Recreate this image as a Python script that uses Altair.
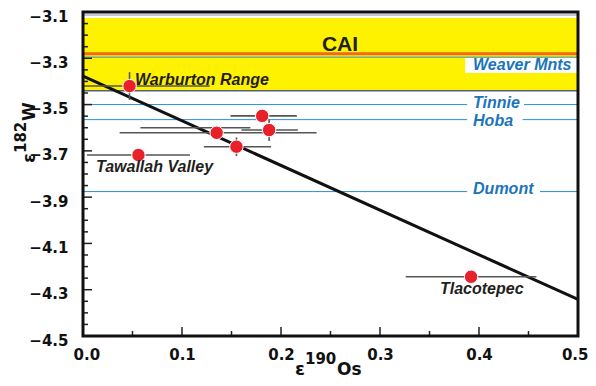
import altair as alt
import pandas as pd

# ---- data ----
sample_names = ["Warburton Range", "s2", "s3", "s4", "s5", "Tawallah Valley", "Tlacotepec"]
os190 = [0.047, 0.181, 0.188, 0.135, 0.155, 0.056, 0.392]
w182 = [-3.420, -3.549, -3.610, -3.622, -3.682, -3.718, -4.244]
os190_lo = [-0.034, 0.149, 0.160, 0.037, 0.122, 0.004, 0.326]
os190_hi = [0.128, 0.216, 0.217, 0.236, 0.190, 0.108, 0.458]
w182_err = [0.060, 0.0, 0.047, 0.0, 0.040, 0.0, 0.0]

extra_bar_y = [-3.600]
extra_bar_lo = [0.058]
extra_bar_hi = [0.169]

fit_x = [0.0, 0.5]
fit_y = [-3.377, -4.342]

cai_lo, cai_hi, cai_mean = -3.440, -3.126, -3.280
cai_top_rule = -3.113

ref_names = ["Weaver Mnts", "Tinnie", "Hoba", "Dumont"]
ref_w = [-3.295, -3.500, -3.565, -3.876]
ref_label_x = [0.394, 0.394, 0.394, 0.394]
ref_label_y = [-3.329, -3.493, -3.570, -3.865]
ref_box_x1 = [0.386, 0.388, 0.388, 0.388]
ref_box_x2 = [0.499, 0.4455, 0.444, 0.4616]
ref_box_y1 = [-3.299, -3.476, -3.543, -3.835]
ref_box_y2 = [-3.364, -3.528, -3.597, -3.904]

lab_names = ["Warburton Range", "Tawallah Valley", "Tlacotepec"]
lab_x = [0.0525, 0.0131, 0.3606]
lab_y = [-3.394, -3.770, -4.297]

x_major = [0.1, 0.2, 0.3, 0.4]
x_minor = [0.05, 0.15, 0.25, 0.35, 0.45]
y_major = [-4.3, -4.1, -3.9, -3.7, -3.5, -3.3]
y_minor = [-4.45, -4.4, -4.35, -4.25, -4.2, -4.15, -4.05, -4.0, -3.95,
           -3.85, -3.8, -3.75, -3.65, -3.6, -3.55, -3.45, -3.4, -3.35,
           -3.25, -3.2, -3.15]
x_labels = [0.0, 0.1, 0.2, 0.3, 0.4, 0.5]
y_labels = [-4.5, -4.3, -4.1, -3.9, -3.7, -3.5, -3.3, -3.1]

# axis titles: base symbol, superscript isotope mass, element
x_title = ["ε", "190", "Os"]
y_title = ["ε", "182", "W"]

W, H = 495, 324
FONT = "Liberation Sans"
AXFONT = "DejaVu Sans"
BLUE_LINE = "#2b8fd0"
BLUE_TEXT = "#1b75bb"
INK = "#111"

xs = alt.Scale(domain=[0.0, 0.5], nice=False, zero=False)
ys = alt.Scale(domain=[-4.5, -3.1], nice=False, zero=False)

x_axis = alt.Axis(values=x_labels, format=".1f", title="",
                  grid=False, domain=False, ticks=False,
                  labelFont=AXFONT, labelFontSize=15, labelFontWeight="bold",
                  labelColor=INK, labelPadding=11, labelFlush=True,
                  labelFlushOffset=10, labelOverlap=False, labelBound=False)
y_axis = alt.Axis(values=y_labels, format=".1f", title="",
                  grid=False, domain=False, ticks=False,
                  labelFont=AXFONT, labelFontSize=15, labelFontWeight="bold",
                  labelColor=INK, labelPadding=15, labelFlush=False,
                  labelOverlap=False, labelOffset=4, labelBound=False)


def X(f):
    return alt.X(f, type="quantitative", scale=xs, axis=x_axis, title="")


def Y(f):
    return alt.Y(f, type="quantitative", scale=ys, axis=y_axis, title="")


samples = pd.DataFrame({"name": sample_names, "x": os190, "y": w182,
                        "lo": os190_lo, "hi": os190_hi, "e": w182_err})
samples["ylo"] = samples["y"] - samples["e"]
samples["yhi"] = samples["y"] + samples["e"]
vbars = samples[samples["e"] > 0]
extra = pd.DataFrame({"y": extra_bar_y, "lo": extra_bar_lo, "hi": extra_bar_hi})
fit = pd.DataFrame({"x": fit_x, "y": fit_y})
refs = pd.DataFrame({"name": ref_names, "y": ref_w, "lx": ref_label_x, "ly": ref_label_y,
                     "bx1": ref_box_x1, "bx2": ref_box_x2, "by1": ref_box_y1, "by2": ref_box_y2})
labs = pd.DataFrame({"name": lab_names, "x": lab_x, "y": lab_y})
one = pd.DataFrame({"a": [0]})

band = alt.Chart(pd.DataFrame({"lo": [cai_lo], "hi": [cai_hi], "x0": [0.0], "x1": [0.5]})).mark_rect(
    color="#FFF200").encode(x=X("x0"), x2="x1", y=Y("lo"), y2="hi")

band_top = alt.Chart(pd.DataFrame({"y": [cai_top_rule]})).mark_rule(
    color="#8a90a8", strokeWidth=1).encode(y=Y("y"))
band_bot = alt.Chart(pd.DataFrame({"y": [cai_lo]})).mark_rule(
    color="#55607a", strokeWidth=1.5).encode(y=Y("y"))

ref_lines = alt.Chart(refs).mark_rule(color=BLUE_LINE, strokeWidth=1).encode(y=Y("y"))
cai_line = alt.Chart(pd.DataFrame({"y": [cai_mean]})).mark_rule(
    color="#F26522", strokeWidth=3).encode(y=Y("y"))

ref_boxes = alt.Chart(refs).mark_rect(color="white").encode(
    x=X("bx1"), x2="bx2", y=Y("by1"), y2="by2")
ref_text = alt.Chart(refs).mark_text(
    align="left", baseline="middle", font=FONT, fontSize=16, fontWeight="bold",
    fontStyle="italic", color=BLUE_TEXT).encode(x=X("lx"), y=Y("ly"), text="name:N")

cai_text = alt.Chart(pd.DataFrame({"x": [0.2596], "y": [-3.243], "t": ["CAI"]})).mark_text(
    align="center", baseline="middle", font=FONT, fontSize=21, fontWeight="bold",
    color="#231f20").encode(x=X("x"), y=Y("y"), text="t:N")

fit_line = alt.Chart(fit).mark_line(color=INK, strokeWidth=3, clip=True).encode(
    x=X("x"), y=Y("y"))

hbars = alt.Chart(samples).mark_rule(color="#555", strokeWidth=1.6, clip=True).encode(
    x=X("lo"), x2="hi", y=Y("y"))
hbar_extra = alt.Chart(extra).mark_rule(color="#555", strokeWidth=1.6, clip=True).encode(
    x=X("lo"), x2="hi", y=Y("y"))
vbar = alt.Chart(vbars).mark_rule(color="#555", strokeWidth=1.6, clip=True).encode(
    x=X("x"), y=Y("ylo"), y2="yhi")

points = alt.Chart(samples).mark_point(
    filled=True, shape="circle", size=180, color="#E8202A", opacity=1,
    stroke="white", strokeWidth=1).encode(x=X("x"), y=Y("y"))

labels = alt.Chart(labs).mark_text(
    align="left", baseline="middle", font=FONT, fontSize=16, fontWeight="bold",
    fontStyle="italic", color="#231f20").encode(x=X("x"), y=Y("y"), text="name:N")

# inward ticks
xt_major = alt.Chart(pd.DataFrame({"v": x_major})).mark_rule(color="#222", strokeWidth=1.5).encode(
    x=X("v"), y=alt.value(H), y2=alt.value(H - 9))
xt_minor = alt.Chart(pd.DataFrame({"v": x_minor})).mark_rule(color="#222", strokeWidth=1.5).encode(
    x=X("v"), y=alt.value(H), y2=alt.value(H - 5))
yt_major = alt.Chart(pd.DataFrame({"v": y_major})).mark_rule(color="#222", strokeWidth=1.5).encode(
    y=Y("v"), x=alt.value(0), x2=alt.value(9))
yt_minor = alt.Chart(pd.DataFrame({"v": y_minor})).mark_rule(color="#222", strokeWidth=1.5).encode(
    y=Y("v"), x=alt.value(0), x2=alt.value(5))

frame = alt.Chart(one).mark_rect(filled=False, stroke=INK, strokeWidth=3).encode(
    x=alt.value(0), x2=alt.value(W), y=alt.value(0), y2=alt.value(H))


def tpart(txt, px, py, size, angle=0):
    kw = dict(align="left", baseline="alphabetic", font=AXFONT, fontSize=size,
              fontWeight="bold", color=INK, text=txt)
    if angle:
        kw["angle"] = angle
    return alt.Chart(one).mark_text(**kw).encode(x=alt.value(px), y=alt.value(py))


# x-axis title (horizontal, with raised isotope number)
xt1 = tpart(x_title[0], 212, 363, 18)
xt2 = tpart(x_title[1], 222, 352, 15)
xt3 = tpart(x_title[2], 254, 363, 17)
# y-axis title (rotated, reading upward)
yt1 = tpart(y_title[0], -48, 151, 18, 270)
yt2 = tpart(y_title[1], -57, 141, 15, 270)
yt3 = tpart(y_title[2], -48, 109, 17, 270)

chart = alt.layer(
    band, band_top, band_bot, ref_lines, cai_line, ref_boxes, ref_text, cai_text,
    fit_line, hbars, hbar_extra, vbar, points, labels,
    xt_major, xt_minor, yt_major, yt_minor, frame,
    xt1, xt2, xt3, yt1, yt2, yt3
).properties(
    width=W, height=H,
    autosize=alt.AutoSizeParams(type="none"),
    padding={"left": 75, "top": 4, "right": 10, "bottom": 42},
).configure_view(stroke=None).configure(background="white")

chart.save("out.html", embed_options={"renderer": "svg", "actions": False})
